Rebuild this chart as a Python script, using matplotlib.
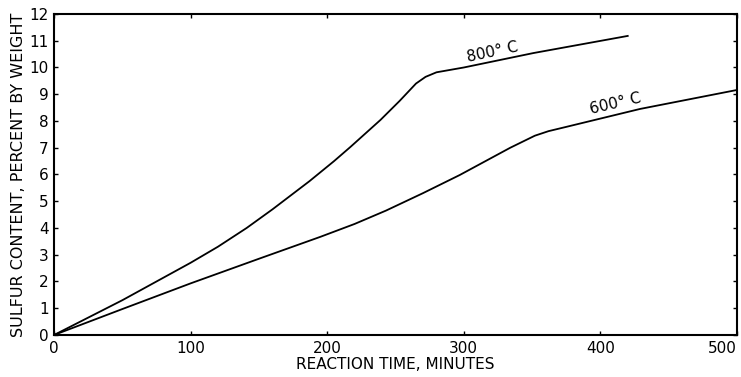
import matplotlib
matplotlib.use('Agg')
import matplotlib.pyplot as plt

# 800 C curve
t800 = [0, 50, 100, 120, 141, 160, 187, 205, 217, 239, 253, 265, 272, 280, 300, 351, 420]
s800 = [0, 1.3, 2.7, 3.3, 4.0, 4.7, 5.75, 6.5, 7.03, 8.04, 8.75, 9.4, 9.65, 9.82, 10.0, 10.54, 11.18]

# 600 C curve
t600 = [0, 50, 100, 150, 195, 220, 243, 270, 297, 334, 352, 362, 375, 429, 500]
s600 = [0, 0.97, 1.93, 2.85, 3.67, 4.15, 4.65, 5.3, 5.98, 7.0, 7.45, 7.62, 7.78, 8.45, 9.16]

xticks = [0, 100, 200, 300, 400, 500]
yticks = list(range(0, 13))

plt.rcParams['font.family'] = ['DejaVu Sans']
fig = plt.figure(figsize=(7.41, 3.77), dpi=100)
ax = fig.add_axes([0.0729, 0.1114, 0.9217, 0.8515])

ax.plot(t800, s800, 'k', lw=1.3)
ax.plot(t600, s600, 'k', lw=1.3)

ax.set_xlim(0, 500)
ax.set_ylim(0, 12)
ax.set_xticks(xticks)
ax.set_yticks(yticks)
ax.tick_params(direction='in', top=True, right=True, length=3, width=1,
               labelsize=11, pad=4)
ax.get_xticklabels()[-1].set_horizontalalignment('right')
for s in ax.spines.values():
    s.set_linewidth(1.5)

ax.set_xlabel('REACTION TIME, MINUTES', fontsize=11, labelpad=1)
ax.set_ylabel('SULFUR CONTENT, PERCENT BY WEIGHT', fontsize=11.5, labelpad=2)

ax.text(321, 10.58, '800° C', rotation=12, fontsize=11, ha='center', va='center')
ax.text(411, 8.65, '600° C', rotation=13, fontsize=11, ha='center', va='center')

fig.savefig('out.png', dpi=100)
